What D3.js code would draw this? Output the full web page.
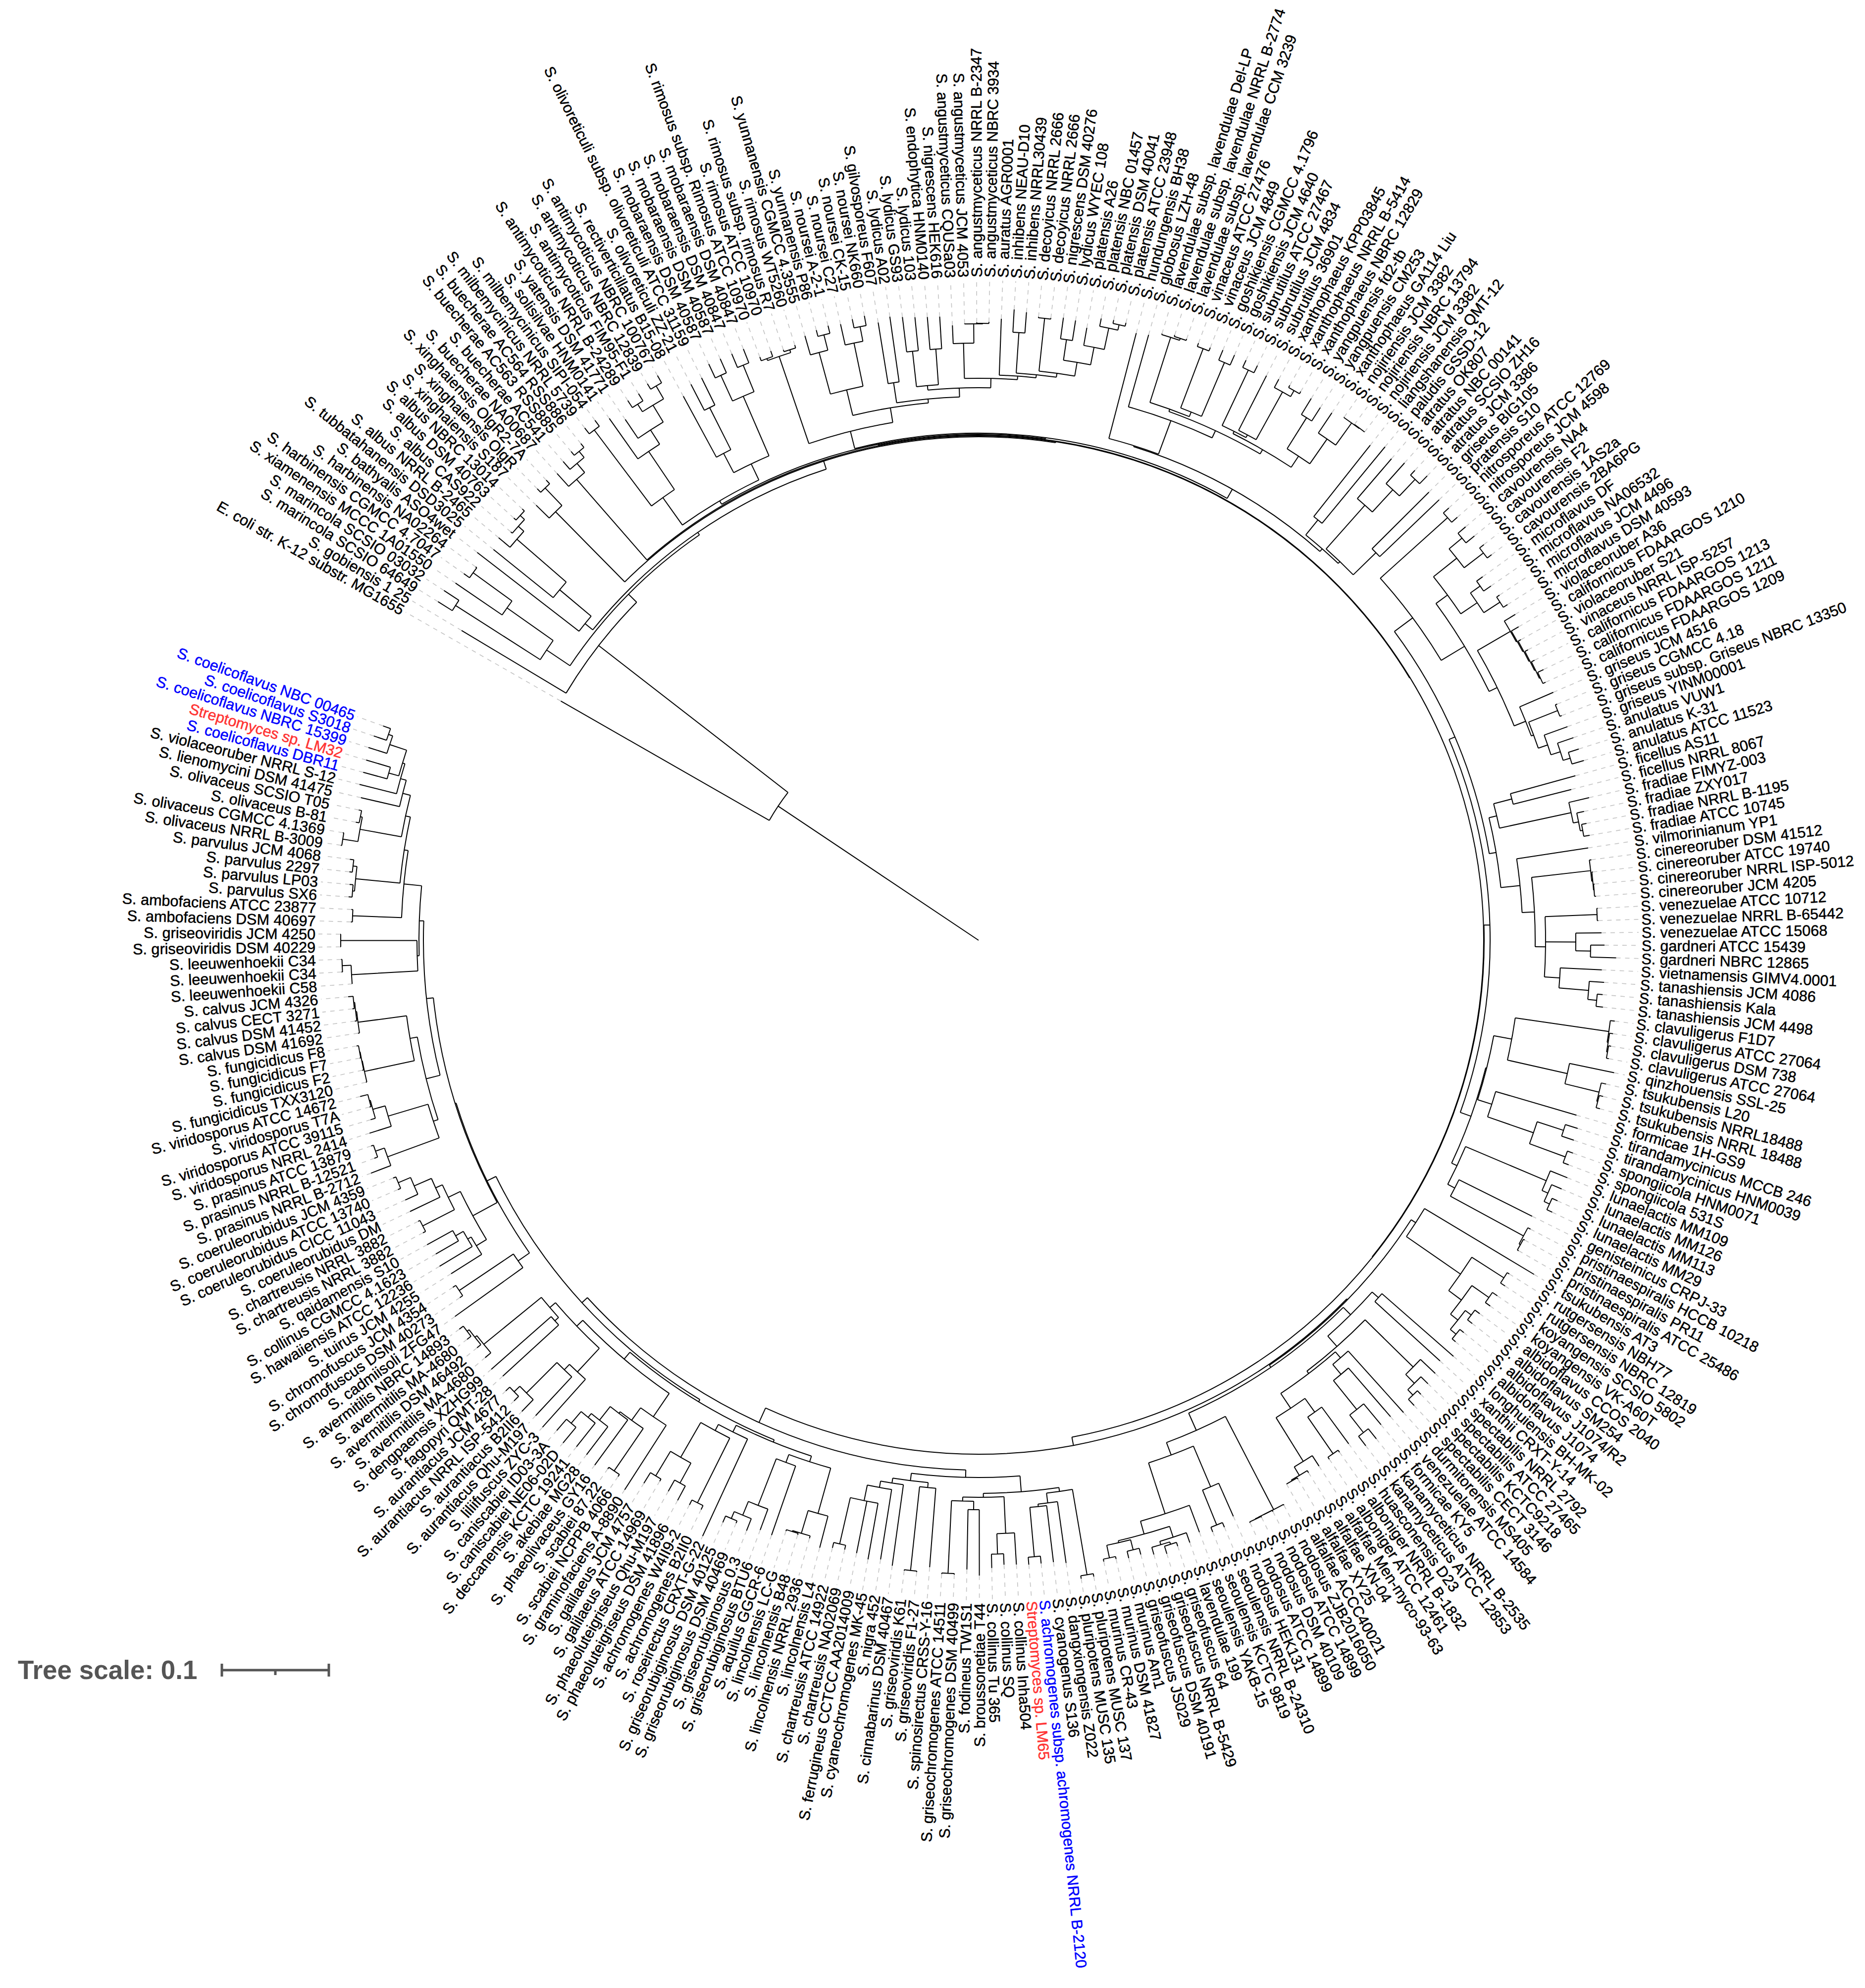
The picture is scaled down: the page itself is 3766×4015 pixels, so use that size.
<!DOCTYPE html>
<html><head><meta charset="utf-8">
<script src="https://cdn.jsdelivr.net/npm/d3@7"></script>
<style>html,body{margin:0;padding:0;background:#fff}</style></head>
<body><svg id="chart" width="3766" height="4015"></svg>
<script>
// Leaf names, clockwise, starting from the outgroup
const leafNames = ["E. coli str. K-12 substr. MG1655","S. gobiensis 1 25","S. marincola SCSIO 64649","S. marincola SCSIO 03032","S. xiamenensis MCCC 1A01550","S. harbinensis CGMCC 4.7047","S. harbinensis NA02264","S. bathyalis ASO4wet","S. tubbatahanensis DSD3025","S. albus NRRL B-2465","S. albus CAS922","S. albus DSM 40763","S. albus NBRC 13014","S. xinghaiensis S187","S. xinghaiensis OlgR","S. xinghaiensis OlgR2-7A","S. buecherae NA00687","S. buecherae AC541","S. buecherae AC563 RSS885","S. buecherae AC564 RSS886","S. milbemycinicus NRRL 5739","S. milbemycinicus SIPI-054","S. solisilvae HNM0141","S. yatensis DSM 41771","S. antimycoticus NRRL B-24289","S. antimycoticus FIM95-F1","S. antimycoticus NBRC 12839","S. antimycoticus NBRC 100767","S. rectiverticillatus B15-08","S. olivoreticuli ZZ-21","S. olivoreticuli subsp. olivoreticuli ATCC 31159","S. mobaraensis DSM 40587","S. mobaraensis DSM 40587","S. mobaraensis DSM 40847","S. mobaraensis DSM 40847","S. rimosus subsp. Rimosus ATCC 10970","S. rimosus ATCC 10970","S. rimosus subsp. rimosus R7","S. rimosus WT5260","S. yunnanensis CGMCC 4.3555","S. yunnanensis P86","S. noursei A-2-1","S. noursei C27","S. noursei CK-15","S. noursei NK660","S. gilvosporeus F607","S. lydicus A02","S. lydicus GS93","S. lydicus 103","S. endophytica HNM0140","S. nigrescens HEK616","S. angustmyceticus CQUSa03","S. angustmyceticus JCM 4053","S. angustmyceticus NRRL B-2347","S. angustmyceticus NBRC 3934","S. auratus AGR0001","S. inhibens NEAU-D10","S. inhibens NRRL30439","S. decoyicus NRRL 2666","S. decoyicus NRRL 2666","S. nigrescens DSM 40276","S. lydicus WYEC 108","S. platensis A26","S. platensis NBC 01457","S. platensis DSM 40041","S. platensis ATCC 23948","S. hundungensis BH38","S. globosus LZH-48","S. lavendulae subsp. lavendulae Del-LP","S. lavendulae subsp. lavendulae NRRL B-2774","S. lavendulae subsp. lavendulae CCM 3239","S. vinaceus ATCC 27476","S. vinaceus JCM 4849","S. goshikiensis CGMCC 4.1796","S. goshikiensis JCM 4640","S. subrutilus ATCC 27467","S. subrutilus JCM 4834","S. subrutilus 36901","S. xanthophaeus KPP03845","S. xanthophaeus NRRL B-5414","S. xanthophaeus NBRC 12829","S. yangpuensis fd2-tb","S. yangpuensis CM253","S. xanthophaeus GA114 Liu","S. nojiriensis JCM 3382","S. nojiriensis NBRC 13794","S. nojiriensis JCM 3382","S. liangshanensis QMT-12","S. paludis GSSD-12","S. atratus OK807","S. atratus NBC 00141","S. atratus SCSIO ZH16","S. atratus JCM 3386","S. griseus BIG105","S. pratensis S10","S. nitrosporeus ATCC 12769","S. nitrosporeus JCM 4598","S. cavourensis NA4","S. cavourensis F2","S. cavourensis 1AS2a","S. cavourensis 2BA6PG","S. microflavus DF","S. microflavus NA06532","S. microflavus JCM 4496","S. microflavus DSM 40593","S. violaceoruber A36","S. californicus FDAARGOS 1210","S. violaceoruber S21","S. vinaceus NRRL ISP-5257","S. californicus FDAARGOS 1213","S. californicus FDAARGOS 1211","S. californicus FDAARGOS 1209","S. griseus JCM 4516","S. griseus CGMCC 4.18","S. griseus subsp. Griseus NBRC 13350","S. griseus YINM00001","S. anulatus VUW1","S. anulatus K-31","S. anulatus ATCC 11523","S. ficellus AS11","S. ficellus NRRL 8067","S. fradiae FIMYZ-003","S. fradiae ZXY017","S. fradiae NRRL B-1195","S. fradiae ATCC 10745","S. vilmorinianum YP1","S. cinereoruber DSM 41512","S. cinereoruber ATCC 19740","S. cinereoruber NRRL ISP-5012","S. cinereoruber JCM 4205","S. venezuelae ATCC 10712","S. venezuelae NRRL B-65442","S. venezuelae ATCC 15068","S. gardneri ATCC 15439","S. gardneri NBRC 12865","S. vietnamensis GIMV4.0001","S. tanashiensis JCM 4086","S. tanashiensis Kala","S. tanashiensis JCM 4498","S. clavuligerus F1D7","S. clavuligerus ATCC 27064","S. clavuligerus DSM 738","S. clavuligerus ATCC 27064","S. qinzhouensis SSL-25","S. tsukubensis L20","S. tsukubensis NRRL18488","S. tsukubensis NRRL 18488","S. formicae 1H-GS9","S. tirandamycinicus MCCB 246","S. tirandamycinicus HNM0039","S. spongiicola HNM0071","S. spongiicola 531S","S. lunaelactis MM109","S. lunaelactis MM126","S. lunaelactis MM113","S. lunaelactis MM29","S. genisteinicus CRPJ-33","S. pristinaespiralis HCCB 10218","S. pristinaespiralis PR11","S. pristinaespiralis ATCC 25486","S. tsukubensis AT3","S. rutgersensis NBH77","S. rutgersensis NBRC 12819","S. koyangensis SCSIO 5802","S. koyangensis VK-A60T","S. albidoflavus CCOS 2040","S. albidoflavus SM254","S. albidoflavus J1074/R2","S. albidoflavus J1074","S. longhuiensis BH-MK-02","S. xanthii CRXT-Y-14","S. spectabilis NRRL 2792","S. spectabilis ATCC 27465","S. spectabilis KCTC9218","S. spectabilis CECT 3146","S. durmitorensis MS405","S. venezuelae ATCC 14584","S. formicae KY5","S. kanamyceticus NRRL B-2535","S. kanamyceticus ATCC 12853","S. huasconensis D23","S. alboniger NRRL B-1832","S. alboniger ATCC 12461","S. alfalfae Men-myco-93-63","S. alfalfae XN-04","S. alfalfae XY25","S. alfalfae ACCC40021","S. nodosus ZJB2016050","S. nodosus ATCC 14899","S. nodosus DSM 40109","S. nodosus ATCC 14899","S. nodosus HEK131","S. seoulensis NRRL B-24310","S. seoulensis KCTC 9819","S. seoulensis YAKB-15","S. lavendulae 199","S. griseofuscus 64","S. griseofuscus NRRL B-5429","S. griseofuscus DSM 40191","S. griseofuscus JS029","S. murinus Am1","S. murinus DSM 41827","S. murinus CR-43","S. pluripotens MUSC 137","S. pluripotens MUSC 135","S. dangxiongensis Z022","S. cyanogenus S136","S. achromogenes subsp. achromogenes NRRL B-2120","Streptomyces sp. LM65","S. collinus Inha504","S. collinus SQ","S. collinus Tu 365","S. broussonetiae T44","S. fodineus TW1S1","S. griseochromogenes DSM 40499","S. griseochromogenes ATCC 14511","S. spinosirectus CRSS-Y-16","S. griseoviridis F1-27","S. griseoviridis K61","S. cinnabarinus DSM 40467","S. nigra 452","S. cyaneochromogenes MK-45","S. ferrugineus CCTCC AA2014009","S. chartreusis NA02069","S. chartreusis ATCC 14922","S. lincolnensis L4","S. lincolnensis NRRL 2936","S. lincolnensis B48","S. lincolnensis LC-G","S. aquilus GGCR-6","S. griseorubiginosus BTU6","S. griseorubiginosus 0.3","S. griseorubiginosus DSM 40469","S. griseorubiginosus DSM 40125","S. roseirectus CRXT-G-22","S. achromogenes B2II0","S. achromogenes W4II9-2","S. phaeoluteigriseus DSM 41896","S. phaeoluteigriseus Qhu-M197","S. galilaeus ATCC 14969","S. galilaeus JCM 4757","S. graminofaciens A-8890","S. scabiei NCPPB 4066","S. scabiei 87.22","S. phaeolivaceus GY16","S. akebiae MG28","S. deccanensis KCTC 19241","S. caniscabiei NE06-02D","S. caniscabiei ID03-3A","S. liliifuscus ZYC-3","S. aurantiacus Qhu-M197","S. aurantiacus B2II6","S. aurantiacus NRRL ISP-5412","S. aurantiacus JCM 4677","S. fagopyri QMT-28","S. dengpaensis XZHG99","S. avermitilis MA-4680","S. avermitilis DSM 46492","S. avermitilis MA-4680","S. avermitilis NBRC 14893","S. cadmiisoli ZFG47","S. chromofuscus DSM 40273","S. chromofuscus JCM 4354","S. tuirus JCM 4255","S. hawaiiensis ATCC 12236","S. collinus CGMCC 4.1623","S. qaidamensis S10","S. chartreusis NRRL 3882","S. chartreusis NRRL 3882","S. coeruleorubidus DM","S. coeruleorubidus CICC 11043","S. coeruleorubidus ATCC 13740","S. coeruleorubidus JCM 4359","S. prasinus NRRL B-2712","S. prasinus NRRL B-12521","S. prasinus ATCC 13879","S. viridosporus NRRL 2414","S. viridosporus ATCC 39115","S. viridosporus T7A","S. viridosporus ATCC 14672","S. fungicidicus TXX3120","S. fungicidicus F2","S. fungicidicus F7","S. fungicidicus F8","S. calvus DSM 41692","S. calvus DSM 41452","S. calvus CECT 3271","S. calvus JCM 4326","S. leeuwenhoekii C58","S. leeuwenhoekii C34","S. leeuwenhoekii C34","S. griseoviridis DSM 40229","S. griseoviridis JCM 4250","S. ambofaciens DSM 40697","S. ambofaciens ATCC 23877","S. parvulus SX6","S. parvulus LP03","S. parvulus 2297","S. parvulus JCM 4068","S. olivaceus NRRL B-3009","S. olivaceus CGMCC 4.1369","S. olivaceus B-81","S. olivaceus SCSIO T05","S. lienomycini DSM 41475","S. violaceoruber NRRL S-12","S. coelicoflavus DBR11","Streptomyces sp. LM32","S. coelicoflavus NBRC 15399","S. coelicoflavus S3018","S. coelicoflavus NBC 00465"];

const blueLeaves = [207, 305, 307, 308, 309];
const redLeaves = [208, 306];

// Tree, Newick style: "leafIndex:divergence", ")divergence" for internal nodes.
// Divergence is root distance in units of 1/2160 substitution per site.
const unitsPerSubstitution = 2160;
const cladeD = "((2:1288,3:1290)1254,(4:1279,(5:1276,6:1265)1262)1165)1051";
const cladeH = "(7:1280,(8:1258,(9:1265,(10:1254,(11:1268,12:1268)1262)1250)1235)1103)1020";
const cladeN = "(13:1253,(14:1275,15:1275)1265)1216";
const cladeG6 = "(16:1270,(17:1280,(18:1285,19:1285)1275)1259)1235";
const cladeU = "((20:1305,21:1305)1290,(22:1291,(23:1271,((24:1300,25:1300)1283,(26:1308,27:1312)1295)1265)1225)1191)1098";
const cladeG9 = "((28:1250,(29:1264,30:1266)1205)1110,((31:1285,32:1285)1254,(33:1285,34:1285)1255)1197)1066";
const cladeRimosus = "((35:1258,36:1262)1250,(37:1256,38:1258)1252)1246";
const cladeNoursei = "((39:1270,(40:1275,41:1278)1262)1230,(42:1275,(43:1280,44:1282)1262)1232)1143";
const cladeAngust = "(51:1243,(52:1246,(53:1248,54:1249)1246)1245)1206";
const cladeArc5 = "((60:1269,61:1267)1226,(62:1256,(63:1280,(64:1282,65:1282)1275)1264)1220)1184";
const cladeArc1 = `(${cladeAngust},(55:1256,((56:1276,57:1272)1230,((58:1265,59:1265)1263,${cladeArc5})1156)1148)1142)1135`;
const cladeZ = `(((47:1268,48:1265)1197,(49:1263,50:1262)1197)1125,${cladeArc1})1116`;
const cladeX = `(${cladeRimosus},(${cladeNoursei},((45:1264,46:1272)1139,${cladeZ})1098)1090)1060`;

const cladeAC = "((68:1280,(69:1285,70:1285)1282)1278,((71:1285,72:1285)1278,(73:1290,74:1290)1268)1150)1140";
const cladeAE = "((75:1290,76:1290)1274,(77:1280,(78:1285,(79:1285,80:1285)1280)1266)1156)1150";
const cladeC78 = "((81:1284,82:1278)1246,(83:1282,(84:1289,(85:1289,86:1289)1289)1288)1233)1172";
const cladeAA0 = `(66:1267,(67:1270,(${cladeAC},(${cladeAE},${cladeC78})1145)1135)1119)1047`;
const cladeBB = "(89:1281,(90:1292,(91:1295,92:1304)1282)1236)1175";
const cladeBH = `((87:1275,88:1291)1091,(${cladeBB},(93:1283,94:1287)1121)1057)1052`;
const cladeAA = `(${cladeAA0},${cladeBH})1045`;

const cladeBL = "(((97:1290,98:1292)1270,(99:1296,100:1296)1285)1236,((101:1255,102:1258)1240,(103:1262,104:1265)1255)1216)1176";
const clade105 = "(105:1268,(106:1261,(107:1252,(108:1255,(109:1257,(110:1265,111:1258)1252)1250)1248)1246)1244)1242";
const cladeBM3 = "(112:1264,((113:1262,114:1262)1258,(115:1265,(116:1269,(117:1272,118:1275)1250)1235)1215)1195)1190";
const cladeBI = `((95:1290,96:1290)1275,(${cladeBL},(${clade105},${cladeBM3})1165)1147)1092`;
const cladeBP = "((119:1250,120:1235)1114,(121:1266,(122:1250,(123:1250,124:1252)1240)1235)1224)1076";
const cladeBT = "((130:1252,131:1252)1250,(132:1258,(133:1264,134:1288)1236)1206,(135:1260,(136:1266,(137:1265,138:1268)1254)1236)1176)1145";
const cladeBR = `(125:1245,((126:1248,(127:1248,(128:1249,129:1250)1247)1246)1244,${cladeBT})1124)1099`;
const cladeS1 = `(${cladeBI},(${cladeBP},${cladeBR})1060)1046`;

const cladeCA = "((139:1295,(140:1295,(141:1295,142:1295)1290)1288)1286,(143:1311,(144:1300,(145:1300,146:1300)1292)1290)1219)1095";
const cladeW = "(147:1258,((148:1268,149:1268)1242,(150:1275,151:1275)1263)1186)1088";
const cladeP1 = "((152:1282,(153:1280,(154:1282,155:1282)1270)1258)1245,(156:1249,(157:1258,(158:1258,159:1258)1255)1252)1084)1068";
const cladeV2 = `((${cladeCA},${cladeW})1058,${cladeP1})1056`;

const cladeQ = "(160:1309,((161:1266,162:1272)1261,((163:1270,164:1270)1258,((165:1262,166:1262)1250,(167:1260,168:1259)1250)1235)1216)1184)1051";
const cladeSpect = "(171:1271,(172:1275,(173:1280,174:1287)1270)1255)1230";
const cladeCI = "(175:1283,(176:1272,(177:1272,(178:1288,179:1286)1262)1217)1142)1116";
const cladeCC = "((180:1262,(181:1265,182:1265)1260)1170,(183:1265,(184:1265,(185:1265,186:1262)1262)1260)1240)1136";
const cladeCF = `((169:1275,170:1261)1083,(${cladeSpect},(${cladeCI},${cladeCC})1100)1094)1066`;
const cladeDGx = "((195:1289,((196:1288,197:1296)1280,198:1290)1275)1268,((199:1283,200:1284)1270,(201:1280,202:1280)1275)1249)1245";
const cladeDG = `((191:1272,(192:1285,193:1285)1275)1199,(194:1276,${cladeDGx})1218)1110`;
const cladeNB = `((187:1297,(188:1298,(189:1298,190:1298)1296)1295)1295,${cladeDG})1083`;

const cladeDH = "((203:1306,204:1306)1300,(205:1270,(206:1265,(207:1265,208:1265)1250)1150)1145)1125";
const cladeDJ = "((209:1263,(210:1262,211:1268)1240)1199,((212:1283,213:1271)1150,(214:1282,215:1282)1280)1133)1125";
const cladeK2 = "((216:1270,(217:1282,218:1282)1280)1110,(219:1275,(220:1266,(221:1270,222:1262,(223:1260,224:1262)1251)1155)1123)1110)1100";
const cladeDO = "((225:1268,(226:1255,(227:1255,228:1255)1252)1250)1202,(229:1272,(230:1270,(231:1281,(232:1275,233:1284)1270)1255)1225)1124)1107";
const cladeDP2 = "(234:1326,((235:1279,236:1281)1270,((237:1284,238:1277)1251,(239:1268,240:1288)1263)1205)1124)1110";
const clade241 = "(241:1320,((242:1305,243:1304)1300,(244:1313,(245:1306,(246:1306,(247:1317,248:1306)1276)1245)1235)1200)1196)1165";
const clade249 = "(249:1320,(250:1312,(251:1325,(252:1321,253:1319)1308)1292)1205)1190";
const cladeDP = "((254:1303,255:1311)1150,(256:1305,(257:1305,(258:1310,259:1310)1300)1295)1290)1140";
const cladeK7 = `((${cladeDO},${cladeDP2})1095,(${clade241},(${clade249},${cladeDP})1125)1108)1090`;

const cladeDS = "(260:1302,(261:1272,262:1272)1265)1133";
const clade1163 = "((263:1260,(264:1272,(265:1266,266:1272)1213)1195)1187,((267:1268,268:1266)1262,(269:1272,(270:1271,(271:1276,272:1276)1270)1243)1205)1190)1163";
const cladeDW = "((273:1314,(274:1297,275:1295)1290)1271,(276:1290,(277:1280,(278:1275,279:1288)1272)1270)1244)1160";
const cladeDX = "((280:1270,(281:1272,(282:1272,283:1274)1270)1269)1268,(284:1267,(285:1270,(286:1272,287:1278)1268)1266)1264)1165";
const cladeDY1 = "((288:1268,(289:1288,290:1288)1286)1268,(291:1289,292:1289)1288)1134";
const cladeN6 = "(303:1280,(304:1289,((305:1288,306:1289)1238,(307:1292,(308:1289,309:1278)1262)1253)1217)1212)1200";
const cladeOliv = "((299:1302,300:1302)1300,(301:1280,302:1279)1273)1269";
const cladeParv = "((295:1275,296:1275)1268,(297:1278,298:1280)1272)1264";
const cladeF = `((293:1268,294:1268)1265,(${cladeParv},(${cladeOliv},${cladeN6})1184)1174)1166`;
const cladeC = `((${cladeDW},${cladeDX})1150,(${cladeDY1},${cladeF})1130)1121`;
const cladeH1 = `(${cladeDS},(${clade1163},${cladeC})1107)1105`;

const cladeRest = `((${cladeS1},${cladeV2})1033,((${cladeQ},(${cladeCF},${cladeNB})1045)1040,(((${cladeDH},${cladeDJ})1117,${cladeK2})1085,(${cladeK7},${cladeH1})1085)1070)1038)1021`;
const cladeTop = `((${cladeU},${cladeG9})1030,(${cladeX},${cladeAA})1024)1022`;
const treeNewick = `(0:972,(1:1217,(${cladeD},(${cladeH},(${cladeN},(${cladeG6},(${cladeTop},${cladeRest})1020)1019)1017)1000)994)971)487`;

function parseTree(s) {
  let i = 0;
  const num = () => { const st = i; while (i < s.length && /[0-9.]/.test(s[i])) i++; return +s.slice(st, i); };
  function node() {
    if (s[i] === "(") {
      i++;
      const children = [node()];
      while (s[i] === ",") { i++; children.push(node()); }
      i++; // ')'
      return { children, div: num() / unitsPerSubstitution };
    }
    const leaf = num(); i++; // ':'
    return { leaf, div: num() / unitsPerSubstitution };
  }
  return node();
}

const width = 3766, cx = 1976, cy = 1899, labelRadius = 1339;
const svg = d3.select("#chart");
const root = d3.hierarchy(parseTree(treeNewick));

const angleScale = d3.scaleLinear().domain([0, leafNames.length - 1]).range([-60.2, 289.8]);
const radiusScale = d3.scaleLinear().domain([0, 0.1]).range([0, 216]);

root.eachAfter(d => {
  if (d.children) {
    const as = d.children.map(c => c.theta);
    d.thetaMin = d3.min(as); d.thetaMax = d3.max(as);
    d.theta = (d.thetaMin + d.thetaMax) / 2;
  } else {
    d.theta = angleScale(d.data.leaf);
  }
  d.r = radiusScale(d.data.div);
});

const rad = a => a * Math.PI / 180;
const pt = (theta, r) => [cx + r * Math.sin(rad(theta)), cy - r * Math.cos(rad(theta))];

function branchPath(d) {
  const p = d3.path();
  const r0 = d.parent ? d.parent.r : 0;
  const a = pt(d.theta, r0), b = pt(d.theta, d.r);
  p.moveTo(a[0], a[1]); p.lineTo(b[0], b[1]);
  if (d.children) {
    const s = pt(d.thetaMin, d.r);
    p.moveTo(s[0], s[1]);
    p.arc(cx, cy, d.r, rad(d.thetaMin - 90), rad(d.thetaMax - 90));
  }
  return p.toString();
}

const leaves = root.leaves();

svg.append("g").selectAll("line").data(leaves).join("line")
  .attr("x1", d => pt(d.theta, d.r)[0]).attr("y1", d => pt(d.theta, d.r)[1])
  .attr("x2", d => pt(d.theta, labelRadius - 6)[0]).attr("y2", d => pt(d.theta, labelRadius - 6)[1])
  .attr("stroke", "#c4c4c4").attr("stroke-width", 1.6).attr("stroke-dasharray", "9 9");

svg.append("g").selectAll("path").data(root.descendants()).join("path")
  .attr("d", branchPath).attr("fill", "none").attr("stroke", "#000").attr("stroke-width", 2);

const flipped = t => t < -0.5 || t >= 179.5;
const labelColor = d => blueLeaves.includes(d.data.leaf) ? "#0000ff" : redLeaves.includes(d.data.leaf) ? "#ff3333" : "#000";
svg.append("g").attr("font-family", "'Liberation Sans',Arial,sans-serif").attr("font-size", 30.6)
  .selectAll("text").data(leaves).join("text")
  .attr("transform", d => flipped(d.theta)
    ? `translate(${cx},${cy}) rotate(${d.theta + 90}) translate(${-labelRadius},0)`
    : `translate(${cx},${cy}) rotate(${d.theta - 90}) translate(${labelRadius},0)`)
  .attr("text-anchor", d => flipped(d.theta) ? "end" : "start")
  .attr("dominant-baseline", "central")
  .attr("fill", labelColor).attr("stroke", labelColor).attr("stroke-width", 0.5)
  .text(d => leafNames[d.data.leaf]);

// Tree scale legend
const barX = 448, barY = 3373, barLen = radiusScale(0.1);
const lg = svg.append("g").attr("stroke", "#555").attr("stroke-width", 5).attr("fill", "none");
lg.append("line").attr("x1", barX).attr("x2", barX + barLen).attr("y1", barY).attr("y2", barY);
lg.append("line").attr("x1", barX).attr("x2", barX).attr("y1", barY - 13).attr("y2", barY + 13);
lg.append("line").attr("x1", barX + barLen).attr("x2", barX + barLen).attr("y1", barY - 13).attr("y2", barY + 13);
lg.append("line").attr("x1", barX + barLen / 2).attr("x2", barX + barLen / 2).attr("y1", barY).attr("y2", barY + 10);
svg.append("text").attr("x", 36).attr("y", barY + 18)
  .attr("font-family", "'Liberation Sans',Arial,sans-serif").attr("font-weight", "bold").attr("font-size", 53).attr("fill", "#555")
  .text("Tree scale: 0.1");
</script></body></html>
